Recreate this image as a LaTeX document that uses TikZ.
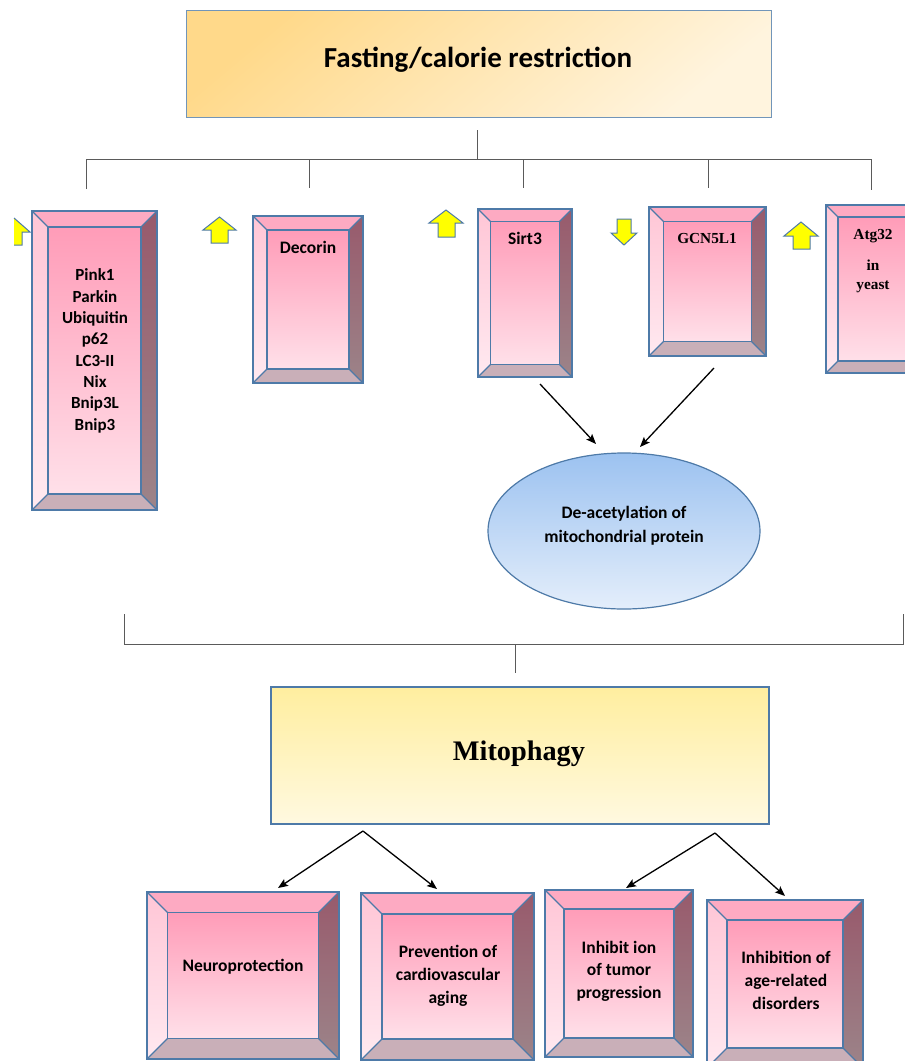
\documentclass[tikz,border=0pt]{standalone}
\usepackage{fontspec}
\setmainfont{Carlito}
\newfontfamily\tnr{Liberation Serif}
\usetikzlibrary{arrows.meta,shapes.geometric}
\definecolor{edgec}{HTML}{4E7AA8}
\definecolor{facetop}{HTML}{FF9CB8}
\definecolor{facebot}{HTML}{FFE0E9}
\definecolor{bevtopc}{HTML}{FDAAC2}
\definecolor{bevlefttop}{HTML}{FFC6D6}
\definecolor{bevleftbot}{HTML}{FFE9F0}
\definecolor{bevrighttop}{HTML}{985A6C}
\definecolor{bevrightbot}{HTML}{9C8489}
\definecolor{bevbotc}{HTML}{C9AFB8}
\definecolor{connc}{HTML}{5A5A5A}
\definecolor{yel}{HTML}{FFFF00}
\definecolor{fasttop}{HTML}{FFD98A}
\definecolor{fastbot}{HTML}{FFF4DE}
\definecolor{elltop}{HTML}{9CC2F0}
\definecolor{ellbot}{HTML}{E4EEFB}
\definecolor{mitotop}{HTML}{FFEE9F}
\definecolor{mitobot}{HTML}{FFF9E0}
\tikzset{
  bevtop/.style={fill=bevtopc},
  bevleft/.style={top color=bevlefttop, bottom color=bevleftbot},
  bevright/.style={top color=bevrighttop, bottom color=bevrightbot},
  bevbot/.style={fill=bevbotc},
  face/.style={draw=edgec, line width=1.3pt, top color=facetop, bottom color=facebot, inner sep=0pt, outer sep=0pt, rectangle},
  edge/.style={draw=edgec, line width=1.3pt, line join=miter},
  lbl/.style={font=\bfseries\fontsize{17.5}{22.8}\selectfont, align=center, inner sep=0pt, anchor=base},
  conn/.style={draw=connc, line width=0.9pt},
  arr/.style={draw=black, line width=1.3pt, -{Stealth[length=10pt,width=8pt,inset=2pt]}},
  yarrow/.style={fill=yel, draw=edgec, line width=1pt, line join=miter},
}
\newcommand{\bevelbox}[6]{%
  \pgfmathsetmacro{\bxa}{#2}%
  \pgfmathsetmacro{\bya}{#3}%
  \pgfmathsetmacro{\bxb}{#4}%
  \pgfmathsetmacro{\byb}{#5}%
  \pgfmathsetmacro{\bxc}{#2+#6}%
  \pgfmathsetmacro{\byc}{#3+#6}%
  \pgfmathsetmacro{\bxd}{#4-#6}%
  \pgfmathsetmacro{\byd}{#5-#6}%
  \pgfmathsetmacro{\bfw}{#4-#2-2*#6}%
  \pgfmathsetmacro{\bfh}{#5-#3-2*#6}%
  \pgfmathsetmacro{\bcx}{(#2+#4)/2}%
  \pgfmathsetmacro{\bcy}{(#3+#5)/2}%
  \fill[bevtop] (\bxa,\bya) -- (\bxb,\bya) -- (\bxd,\byc) -- (\bxc,\byc) -- cycle;
  \shade[bevleft] (\bxa,\bya) -- (\bxc,\byc) -- (\bxc,\byd) -- (\bxa,\byb) -- cycle;
  \shade[bevright] (\bxb,\bya) -- (\bxb,\byb) -- (\bxd,\byd) -- (\bxd,\byc) -- cycle;
  \fill[bevbot] (\bxa,\byb) -- (\bxc,\byd) -- (\bxd,\byd) -- (\bxb,\byb) -- cycle;
  \node[face, minimum width=\bfw pt, minimum height=\bfh pt] (#1) at (\bcx,\bcy) {};
  \draw[edge] (\bxa,\bya) rectangle (\bxb,\byb);
  \draw[edge] (\bxa,\bya) -- (\bxc,\byc) (\bxb,\bya) -- (\bxd,\byc) (\bxa,\byb) -- (\bxc,\byd) (\bxb,\byb) -- (\bxd,\byd);
}
\begin{document}
\begin{tikzpicture}[x=1pt,y=-1pt]
\useasboundingbox (0,0) rectangle (905,1061);
\clip (0,0) rectangle (905,1061);
\fill[white] (0,0) rectangle (905,1061);

% top box
\node[draw=edgec!80, line width=1pt, top color=fasttop, bottom color=fastbot, shading angle=40, inner sep=0pt,
      minimum width=585pt, minimum height=107pt] (fast) at (478.5,63.5) {};
\node[font=\bfseries\fontsize{29}{34}\selectfont, anchor=base, inner sep=0pt] (fastt) at (478,67) {Fasting/calorie restriction};

% top connectors
\coordinate (c0) at (477,130);
\coordinate (c1) at (477,159);
\coordinate (hl) at (86,159);
\coordinate (hr) at (871,159);
\coordinate (h2) at (309,159);
\coordinate (h3) at (523,159);
\coordinate (h4) at (708,159);
\coordinate (d1) at (86,189);
\coordinate (d2) at (309,188);
\coordinate (d3) at (523,188);
\coordinate (d4) at (708,188);
\coordinate (d5) at (871,190);
\draw[conn] (c0) -- (c1);
\draw[conn] (d1) -- (hl) -- (hr) -- (d5);
\draw[conn] (h2) -- (d2);
\draw[conn] (h3) -- (d3);
\draw[conn] (h4) -- (d4);

% yellow arrows
\fill[yel] (14,218) -- (30,232) -- (22,232) -- (22,245) -- (14,245) -- cycle;
\draw[edgec, line width=1pt] (14,218) -- (30,232) -- (22,232) -- (22,245) -- (14,245);
\draw[yarrow] (219.5,217) -- (236,230) -- (228,230) -- (228,243) -- (211,243) -- (211,230) -- (203,230) -- cycle;
\draw[yarrow] (446,210) -- (463,223) -- (455,223) -- (455,237) -- (438,237) -- (438,223) -- (429,223) -- cycle;
\draw[yarrow] (801,222) -- (818,236) -- (810,236) -- (810,249) -- (793,249) -- (793,236) -- (784,236) -- cycle;
\draw[yarrow] (624,245) -- (637,233) -- (631,233) -- (631,219) -- (617,219) -- (617,233) -- (611,233) -- cycle;

% bevel boxes (row 1)
\bevelbox{pink}{32}{211}{157}{510}{16}
\bevelbox{decorin}{253}{216}{363}{383}{14}
\bevelbox{sirt}{478}{209}{572}{377}{12.5}
\bevelbox{gcn}{649}{207}{766}{356}{14.5}
\bevelbox{atg}{826}{205}{920}{373}{12}

\node[lbl, font=\bfseries\fontsize{17}{21.3}\selectfont] (pinkt) at (95,430) {Pink1\\Parkin\\Ubiquitin\\p62\\LC3-II\\Nix\\Bnip3L\\Bnip3};
\node[lbl] (decorint) at (308,253) {Decorin};
\node[lbl] (sirtt) at (525,244) {Sirt3};
\node[lbl, font=\tnr\bfseries\fontsize{15.3}{18.6}\selectfont] (gcnt) at (707,243) {GCN5L1};
\node[lbl, font=\tnr\bfseries\fontsize{15.3}{18.6}\selectfont] (atgt) at (873,289) {Atg32\\[12.8pt]in\\yeast};

% ellipse
\node[ellipse, draw=edgec, line width=1.2pt, top color=elltop, bottom color=ellbot,
      minimum width=272pt, minimum height=156pt, inner sep=0pt] (deac) at (624,531) {};
\node[lbl, font=\bfseries\fontsize{17.5}{24}\selectfont] (deact) at (624,542) {De-acetylation of\\mitochondrial protein};

\coordinate (s1) at (540,384);
\coordinate (e1) at (596,444);
\coordinate (s2) at (714,368);
\coordinate (e2) at (640,447);
\draw[arr] (s1) -- (e1);
\draw[arr] (s2) -- (e2);

% bottom connector
\coordinate (b1) at (124,614);
\coordinate (b2) at (124,644);
\coordinate (b3) at (903,644);
\coordinate (b4) at (903,614);
\coordinate (b5) at (515,644);
\coordinate (b6) at (515,673);
\draw[conn] (b1) -- (b2) -- (b3) -- (b4);
\draw[conn] (b5) -- (b6);

% mitophagy
\node[draw=edgec, line width=1.2pt, top color=mitotop, bottom color=mitobot, inner sep=0pt,
      minimum width=498pt, minimum height=137pt] (mito) at (520,755.5) {};
\node[lbl, font=\tnr\bfseries\fontsize{28.3}{34}\selectfont] (mitot) at (519,760) {Mitophagy};

\coordinate (m1) at (363,831);
\coordinate (t1) at (278,888);
\coordinate (t2) at (437,889);
\coordinate (m2) at (715,833);
\coordinate (t3) at (626,888);
\coordinate (t4) at (785,896);
\draw[arr] (m1) -- (t1);
\draw[arr] (m1) -- (t2);
\draw[arr] (m2) -- (t3);
\draw[arr] (m2) -- (t4);

% bottom bevel boxes
\bevelbox{neuro}{147}{892}{339}{1059}{20.5}
\bevelbox{cardio}{361}{893}{534}{1060}{21}
\bevelbox{tumor}{545}{890}{693}{1057}{19}
\bevelbox{age}{707}{900}{863}{1068}{20}

\node[lbl] (neurot) at (243,971) {Neuroprotection};
\node[lbl, font=\bfseries\fontsize{17.5}{23}\selectfont] (cardiot) at (448,1003) {Prevention of\\cardiovascular\\aging};
\node[lbl, font=\bfseries\fontsize{17.5}{22.5}\selectfont] (tumort) at (619,998) {Inhibit ion\\of tumor\\progression};
\node[lbl, font=\bfseries\fontsize{17.5}{23}\selectfont] (aget) at (786,1009) {Inhibition of\\age-related\\disorders};
\end{tikzpicture}
\end{document}
